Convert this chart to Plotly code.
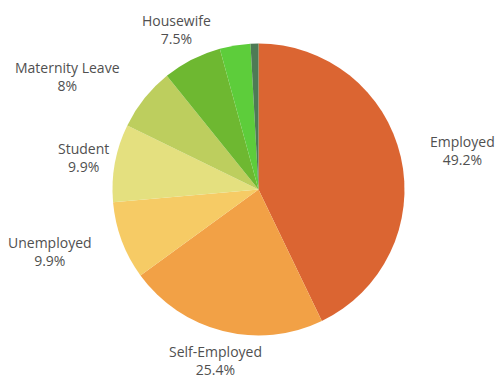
import math
import plotly.graph_objects as go

categories = ["Employed", "Self-Employed", "Unemployed", "Student", "Maternity Leave", "Housewife", "Other", "Retired"]
values = [49.2, 25.4, 9.9, 9.9, 8.0, 7.5, 3.9, 1.0]
label_text = ["49.2%", "25.4%", "9.9%", "9.9%", "8%", "7.5%", "", ""]

colors = ["#DB6532", "#F2A146", "#F6CB65", "#E4E07F", "#BDCE5E", "#6EB831", "#5DCD3B", "#4D7B55"]

W, H = 499, 379
CX, CY, R = 258.5, 189.5, 146.0
# label placement (layout styling): radial distance factor and angle nudge (deg)
label_r = [1.42, 1.21, 1.49, 1.22, 1.52, 1.23, 0, 0]
label_dtheta = [2, 0, 4, 0, -8, 0, 0, 0]

fig = go.Figure(go.Pie(
    labels=categories,
    values=values,
    sort=False,
    direction="clockwise",
    rotation=0,
    textinfo="none",
    hoverinfo="label+value",
    marker=dict(colors=colors, line=dict(width=0)),
    domain=dict(x=[(CX - R) / W, (CX + R) / W], y=[1 - (CY + R) / H, 1 - (CY - R) / H]),
    showlegend=False,
))

total = sum(values)
cum = 0.0
annotations = []
for i, (cat, v) in enumerate(zip(categories, values)):
    mid = (cum + v / 2) / total * 360.0
    cum += v
    if not label_text[i]:
        continue
    a = math.radians(mid + label_dtheta[i])
    d = R * label_r[i]
    px = CX + d * math.sin(a)
    py = CY - d * math.cos(a)
    annotations.append(dict(
        x=px / W, y=1 - py / H, xref="paper", yref="paper",
        text=f"{cat}<br>{label_text[i]}", showarrow=False,
        xanchor="center", yanchor="middle", align="center",
        font=dict(family="Open Sans", size=14, color="#505050"),
    ))

fig.update_layout(
    width=W, height=H,
    margin=dict(l=0, r=0, t=0, b=0),
    paper_bgcolor="white",
    plot_bgcolor="white",
    annotations=annotations,
)

fig.write_html("out.html")
